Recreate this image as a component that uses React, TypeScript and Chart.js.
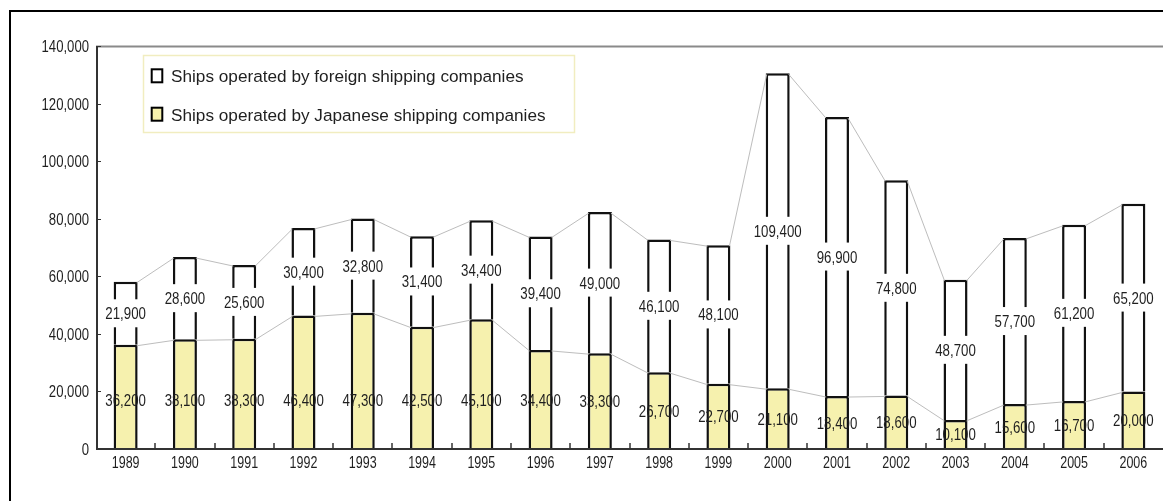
import React, { useEffect, useRef } from "react";
import { Chart, registerables } from "chart.js";

Chart.register(...registerables);

// Fiscal years on the category axis
const years = [
  "1989", "1990", "1991", "1992", "1993", "1994", "1995", "1996", "1997",
  "1998", "1999", "2000", "2001", "2002", "2003", "2004", "2005", "2006",
];

// Ships operated by Japanese shipping companies (bottom segment)
const japaneseShips = [
  36200, 38100, 38300, 46400, 47300, 42500, 45100, 34400, 33300,
  26700, 22700, 21100, 18400, 18600, 10100, 15600, 16700, 20000,
];

// Ships operated by foreign shipping companies (top segment)
const foreignShips = [
  21900, 28600, 25600, 30400, 32800, 31400, 34400, 39400, 49000,
  46100, 48100, 109400, 96900, 74800, 48700, 57700, 61200, 65200,
];

// Value-axis tick labels
const yTicks = [0, 20000, 40000, 60000, 80000, 100000, 120000, 140000];

const seriesNames = [
  "Ships operated by Japanese shipping companies",
  "Ships operated by foreign shipping companies",
];

const FONT = '"Liberation Sans", Arial, Helvetica, sans-serif';
const TEXT = "#1f1f1f";
const YELLOW = "#f6f1ae";
const fmt = (v: number) => v.toLocaleString("en-US");

// Draws text squeezed horizontally to mimic a condensed face
function drawText(
  ctx: CanvasRenderingContext2D,
  text: string,
  x: number,
  y: number,
  size: number,
  sx: number,
  align: CanvasTextAlign
) {
  ctx.save();
  ctx.translate(x, y);
  ctx.scale(sx, 1);
  ctx.font = `${size}px ${FONT}`;
  ctx.textAlign = align;
  ctx.textBaseline = "alphabetic";
  ctx.fillStyle = TEXT;
  ctx.fillText(text, 0, 0);
  ctx.restore();
}

const decorations = {
  id: "decorations",
  beforeDraw(chart: any) {
    const ctx: CanvasRenderingContext2D = chart.ctx;
    ctx.save();
    ctx.fillStyle = "#fff";
    ctx.fillRect(0, 0, chart.width, chart.height);
    // outer frame
    ctx.strokeStyle = "#000";
    ctx.lineWidth = 2;
    ctx.beginPath();
    ctx.moveTo(10, chart.height);
    ctx.lineTo(10, 11);
    ctx.lineTo(chart.width, 11);
    ctx.stroke();
    ctx.restore();
  },
  afterDatasetsDraw(chart: any) {
    const ctx: CanvasRenderingContext2D = chart.ctx;
    const area = chart.chartArea;
    const xScale = chart.scales.x;
    const yScale = chart.scales.y;
    const metas = [0, 1].map((d) =>
      chart.getDatasetMeta(d).data.map((el: any) =>
        el.getProps(["x", "y", "base", "width"], true)
      )
    );

    // series lines joining the tops of neighbouring segments
    ctx.save();
    ctx.strokeStyle = "#bdbdbd";
    ctx.lineWidth = 1;
    metas.forEach((bars: any[]) => {
      for (let i = 0; i < bars.length - 1; i++) {
        const a = bars[i];
        const b = bars[i + 1];
        ctx.beginPath();
        ctx.moveTo(a.x + a.width / 2 - 1, a.y + 1);
        ctx.lineTo(b.x - b.width / 2 + 1, b.y + 1);
        ctx.stroke();
      }
    });
    ctx.restore();

    // axes
    ctx.save();
    ctx.lineWidth = 2;
    ctx.strokeStyle = "#8a8a8a";
    ctx.beginPath();
    ctx.moveTo(area.left, area.top + 0.5);
    ctx.lineTo(area.right, area.top + 0.5);
    ctx.stroke();
    ctx.strokeStyle = "#333";
    ctx.beginPath();
    ctx.moveTo(area.left + 1, area.top);
    ctx.lineTo(area.left + 1, area.bottom);
    ctx.lineTo(area.right, area.bottom);
    ctx.stroke();

    // y ticks and labels
    ctx.lineWidth = 1;
    yTicks.forEach((v) => {
      const y = Math.round(yScale.getPixelForValue(v)) + 0.5;
      ctx.beginPath();
      ctx.moveTo(area.left, y);
      ctx.lineTo(area.left + 5, y);
      ctx.stroke();
      drawText(ctx, fmt(v), area.left - 7, y + 5.5, 16, 0.82, "right");
    });

    // x ticks between categories and year labels
    ctx.lineWidth = 1.5;
    years.forEach((label, i) => {
      const cx = xScale.getPixelForValue(i);
      if (i < years.length - 1) {
        const nx = xScale.getPixelForValue(i + 1);
        const bx = Math.round((cx + nx) / 2);
        ctx.beginPath();
        ctx.moveTo(bx, area.bottom);
        ctx.lineTo(bx, area.bottom - 6);
        ctx.stroke();
      }
      drawText(ctx, label, cx, area.bottom + 19, 16, 0.78, "center");
    });
    ctx.restore();

    // value labels
    ctx.save();
    const lowLimit = area.bottom - 49;
    metas[0].forEach((b: any, i: number) => {
      const mid = Math.max((b.y + b.base) / 2, lowLimit);
      drawText(ctx, fmt(japaneseShips[i]), b.x, mid + 6, 17, 0.78, "center");
    });
    metas[1].forEach((b: any, i: number) => {
      const mid = (b.y + b.base) / 2;
      const text = fmt(foreignShips[i]);
      ctx.font = `17px ${FONT}`;
      const w = ctx.measureText(text).width * 0.78 + 4;
      ctx.fillStyle = "#fff";
      ctx.fillRect(b.x - w / 2, mid - 14, w, 28);
      drawText(ctx, text, b.x, mid + 6, 17, 0.78, "center");
    });
    ctx.restore();

    // legend
    ctx.save();
    ctx.fillStyle = "#fff";
    ctx.fillRect(143.5, 55.5, 431, 77);
    ctx.strokeStyle = "#f1edc0";
    ctx.lineWidth = 1.5;
    ctx.strokeRect(143.5, 55.5, 431, 77);
    const rows = [
      { name: chart.data.datasets[1].label, fill: "#fff", top: 69.3, base: 82 },
      { name: chart.data.datasets[0].label, fill: YELLOW, top: 107.7, base: 120.5 },
    ];
    rows.forEach((r) => {
      ctx.fillStyle = r.fill;
      ctx.fillRect(151.7, r.top, 10.6, 13);
      ctx.strokeStyle = "#000";
      ctx.lineWidth = 2;
      ctx.strokeRect(151.7, r.top, 10.6, 13);
      ctx.font = `17.2px ${FONT}`;
      ctx.fillStyle = TEXT;
      ctx.textAlign = "left";
      ctx.textBaseline = "alphabetic";
      ctx.fillText(r.name, 171, r.base);
    });
    ctx.restore();
  },
};

export default function App() {
  const canvasRef = useRef<HTMLCanvasElement | null>(null);

  useEffect(() => {
    const canvas = canvasRef.current;
    if (!canvas) return;
    const chart = new Chart(canvas, {
      type: "bar",
      data: {
        labels: years,
        datasets: [
          {
            label: seriesNames[0],
            data: japaneseShips,
            backgroundColor: YELLOW,
            borderColor: "#111",
            borderWidth: 2.5,
          },
          {
            label: seriesNames[1],
            data: foreignShips,
            backgroundColor: "#fff",
            borderColor: "#111",
            borderWidth: 2.5,
          },
        ],
      },
      options: {
        responsive: false,
        animation: false,
        devicePixelRatio: 1,
        layout: { padding: { left: 96, right: 0, top: 46, bottom: 52 } },
        datasets: { bar: { barPercentage: 0.405, categoryPercentage: 1 } },
        scales: {
          x: { stacked: true, display: false },
          y: { stacked: true, display: false, min: 0, max: 140000 },
        },
        plugins: {
          legend: { display: false },
          tooltip: { enabled: false },
        },
      },
      plugins: [decorations],
    });
    return () => chart.destroy();
  }, []);

  return (
    <div style={{ position: "fixed", left: 0, top: 0, width: 1163, height: 501 }}>
      <canvas ref={canvasRef} width={1163} height={501} />
    </div>
  );
}
